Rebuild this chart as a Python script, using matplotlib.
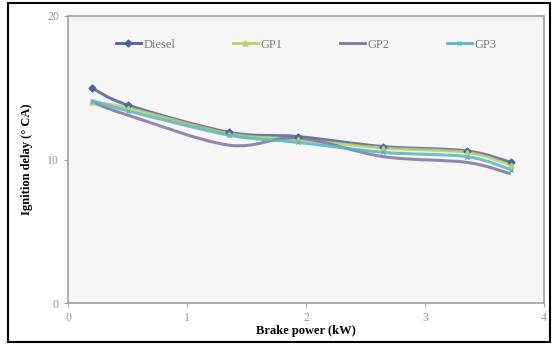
import matplotlib.pyplot as plt
from matplotlib.path import Path
from matplotlib.patches import PathPatch
from matplotlib.lines import Line2D
import numpy as np

# ======================= Data =========================================================================================
brake_power = [0.2, 0.5, 1.35, 1.93, 2.65, 3.35, 3.72]
diesel = [15.0, 13.8, 11.9, 11.6, 10.9, 10.6, 9.8]
gp1 = [14.0, 13.6, 11.8, 11.4, 10.8, 10.5, 9.6]
gp2 = [14.0, 13.1, 11.0, 11.5, 10.2, 9.8, 9.0]
gp3 = [14.1, 13.4, 11.7, 11.2, 10.5, 10.2, 9.3]

series_names = ['Diesel', 'GP1', 'GP2', 'GP3']
series_vals = [diesel, gp1, gp2, gp3]
colors = ['#4a62a0', '#bccf62', '#82739f', '#55b6c6']
markers = ['D', '^', None, 'x']


# Excel-like smoothed line: Catmull-Rom converted to cubic Bezier path ==================================================
def smooth_path(ax, xs, ys):
    pts = np.array([ax.transData.transform((x, y)) for x, y in zip(xs, ys)])
    verts = [tuple(pts[0])]
    codes = [Path.MOVETO]
    n = len(pts)
    for i in range(n - 1):
        p0 = pts[i - 1] if i > 0 else pts[i]
        p1 = pts[i]
        p2 = pts[i + 1]
        p3 = pts[i + 2] if i + 2 < n else pts[i + 1]
        c1 = p1 + (p2 - p0) / 6.0
        c2 = p2 - (p3 - p1) / 6.0
        verts += [tuple(c1), tuple(c2), tuple(p2)]
        codes += [Path.CURVE4] * 3
    inv = ax.transData.inverted()
    verts = [tuple(inv.transform(v)) for v in verts]
    return Path(verts, codes)


fig = plt.figure(figsize=(5.52, 3.45), dpi=100)
fig.patch.set_facecolor('white')
ax = fig.add_axes([68 / 552, 42 / 345, 476 / 552, 287 / 345])
ax.set_facecolor('#f6f6f6')
ax.set_xlim(0, 4)
ax.set_ylim(0, 20)

handles = []
for name, vals, col, mk in zip(series_names, series_vals, colors, markers):
    path = smooth_path(ax, brake_power, vals)
    ax.add_patch(PathPatch(path, facecolor='none', edgecolor=col, lw=2.2, alpha=0.85, zorder=3))
    if mk is not None:
        ax.plot(brake_power, vals, linestyle='none', marker=mk, color=col, ms=3.5, mew=1.0, zorder=4)
    handles.append(Line2D([], [], color=col, lw=2.0, marker=mk, ms=3.5))

ax.legend(handles, series_names, loc='upper center', bbox_to_anchor=(0.5, 0.96), ncol=4, frameon=False,
          handlelength=2.0, handletextpad=0.2, columnspacing=4.6,
          prop={'family': 'Liberation Serif', 'size': 9}, labelcolor='#7a7a7a')

ax.set_xticks([0, 1, 2, 3, 4])
ax.set_yticks([0, 10, 20])
ax.tick_params(axis='both', colors='#a0a0a0', labelcolor='#999999', labelsize=8.5, length=3)
for lab in ax.get_xticklabels() + ax.get_yticklabels():
    lab.set_family('Liberation Serif')
for sp in ax.spines.values():
    sp.set_color('#a0a0a0')
    sp.set_linewidth(1.2)

ax.set_xlabel('Brake power (kW)', family='Liberation Serif', weight='bold', size=9, labelpad=1)
ax.set_ylabel('Ignition delay (° CA)', family='Liberation Serif', weight='bold', size=9, labelpad=10)

# outer black frame round the whole chart
fig.add_artist(plt.Rectangle((8 / 552, 3 / 345), 542 / 552, 339 / 345, transform=fig.transFigure,
                             fill=False, edgecolor='black', lw=1.5))

plt.savefig('out.png', dpi=100)
